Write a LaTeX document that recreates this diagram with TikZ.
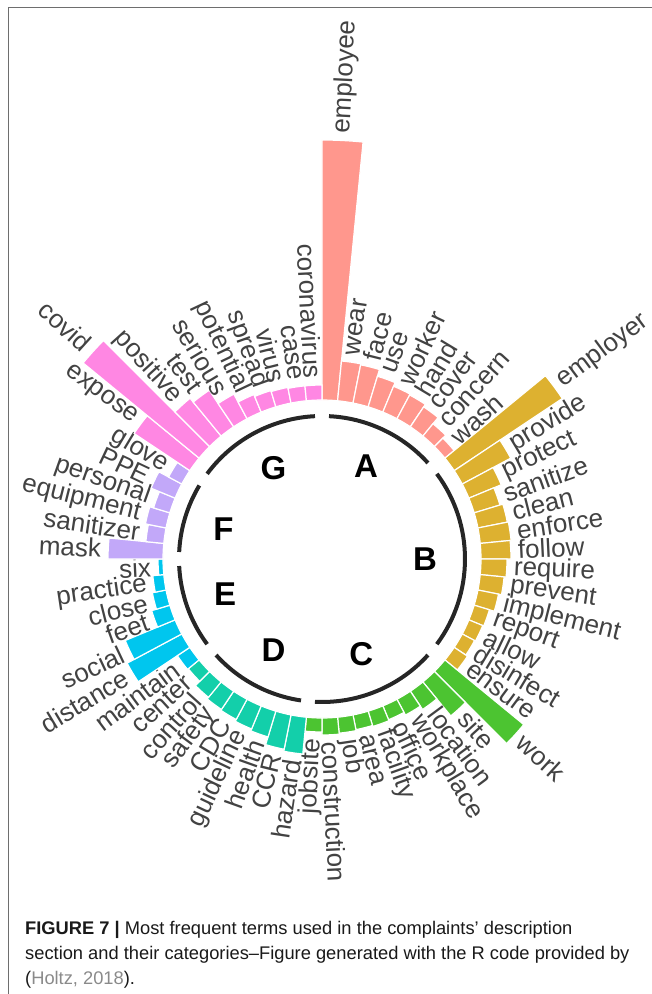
\documentclass[tikz,border=0pt]{standalone}
\usepackage{fontspec}
\setmainfont{Liberation Sans}
\usetikzlibrary{positioning}

\definecolor{grpA}{HTML}{FF978D}
\definecolor{grpB}{HTML}{DDB130}
\definecolor{grpC}{HTML}{4CC431}
\definecolor{grpD}{HTML}{13CFAA}
\definecolor{grpE}{HTML}{00C6EE}
\definecolor{grpF}{HTML}{C2A8F9}
\definecolor{grpG}{HTML}{FF87E3}
\definecolor{termgray}{HTML}{424242}
\definecolor{ringgray}{HTML}{262626}
\definecolor{framegray}{HTML}{6E6E6E}
\definecolor{citegray}{HTML}{8A8A8A}

\begin{document}
\begin{tikzpicture}[x=1pt,y=1pt]
		\tikzstyle{term}=[inner sep=0pt,text=termgray,font=\fontsize{26}{26}\selectfont]
		\tikzstyle{grouplabel}=[inner sep=0pt,font=\fontsize{33}{33}\selectfont\bfseries]
		\tikzstyle{ring}=[line width=4pt,color=ringgray]
		\tikzstyle{bar}=[draw=white,line width=1.2pt]
		\tikzstyle{caption}=[inner sep=0pt,anchor=base west,text=black!90,font=\fontsize{18.3}{18.3}\selectfont]

		\useasboundingbox (-322,-435) rectangle (330,559);
		\draw[framegray,line width=1pt] (-313,-436) -- (-313,551) -- (331,551);

		% bars and terms, clockwise from the top
		\foreach \k/\h/\word/\col in {
			1/260/employee/grpA, 2/40/wear/grpA, 3/39/face/grpA, 4/32/use/grpA, 5/28/worker/grpA,
			6/27/hand/grpA, 7/24/cover/grpA, 8/16/concern/grpA, 9/12/wash/grpA,
			10/130/employer/grpB, 11/55/provide/grpB, 12/35/protect/grpB, 13/27/sanitize/grpB,
			14/30/clean/grpB, 15/31/enforce/grpB, 16/30/follow/grpB, 17/26/require/grpB,
			18/24/prevent/grpB, 19/21/implement/grpB, 20/16/report/grpB, 21/15/allow/grpB,
			22/14/disinfect/grpB, 23/16/ensure/grpB,
			24/102/work/grpC, 25/44/site/grpC, 26/22/location/grpC, 27/18/workplace/grpC,
			28/15/office/grpC, 29/16/facility/grpC, 30/15/area/grpC, 31/16/job/grpC,
			32/17/construction/grpC, 33/14/jobsite/grpC,
			34/37/hazard/grpD, 35/35/CCR/grpD, 36/27/health/grpD, 37/25/guideline/grpD,
			38/23/CDC/grpD, 39/22/safety/grpD, 40/20/control/grpD, 41/14/center/grpD,
			42/15/maintain/grpE, 43/62/distance/grpE, 44/54/social/grpE, 45/19/feet/grpE,
			46/14/close/grpE, 47/11/practice/grpE, 48/5/six/grpE,
			49/55/mask/grpF, 50/18/sanitizer/grpF, 51/21/equipment/grpF, 52/17/personal/grpF,
			53/26/PPE/grpF, 54/15/glove/grpF,
			55/67/expose/grpG, 56/150/covid/grpG, 57/49/positive/grpG, 58/44/test/grpG,
			59/28/serious/grpG, 60/19/potential/grpG, 61/17/spread/grpG, 62/16/virus/grpG,
			63/15/case/grpG, 64/15/coronavirus/grpG}{
			\pgfmathsetmacro{\angA}{90-(\k-1)*5.625}
			\pgfmathsetmacro{\angB}{90-\k*5.625}
			\pgfmathsetmacro{\angM}{90-(\k-0.5)*5.625}
			\pgfmathsetmacro{\rtop}{159+\h}
			\pgfmathsetmacro{\rtxt}{166+\h}
			\fill[\col,bar] (\angA:159) arc[start angle=\angA,end angle=\angB,radius=159pt]
				-- (\angB:\rtop) arc[start angle=\angB,end angle=\angA,radius=\rtop pt] -- cycle;
			\ifdim\angM pt<-90pt
				\pgfmathsetmacro{\turn}{\angM+180}
				\node[term,anchor=east,rotate=\turn] (t\k) at (\angM:\rtxt) {\word};
			\else
				\node[term,anchor=west,rotate=\angM] (t\k) at (\angM:\rtxt) {\word};
			\fi
		}

		% group arcs and letters
		\foreach \s/\e/\g in {1/9/A, 10/23/B, 24/33/C, 34/41/D, 42/48/E, 49/54/F, 55/64/G}{
			\pgfmathsetmacro{\angA}{90-(\s-0.5)*5.625}
			\pgfmathsetmacro{\angB}{90-(\e-0.5)*5.625}
			\pgfmathsetmacro{\angM}{(\angA+\angB)/2}
			\draw[ring] (\angA:143) arc[start angle=\angA,end angle=\angB,radius=143pt];
			\node[grouplabel] (g\g) at (\angM:103) {\g};
		}

		\node[caption] (cap1) at (-297,-375) {\textbf{FIGURE 7 |} Most frequent terms used in the complaints' description};
		\node[caption] (cap2) at (-297,-400) {section and their categories–Figure generated with the R code provided by};
		\node[caption] (cap3) at (-297,-425) {(\textcolor{citegray}{Holtz, 2018}).};
\end{tikzpicture}
\end{document}
